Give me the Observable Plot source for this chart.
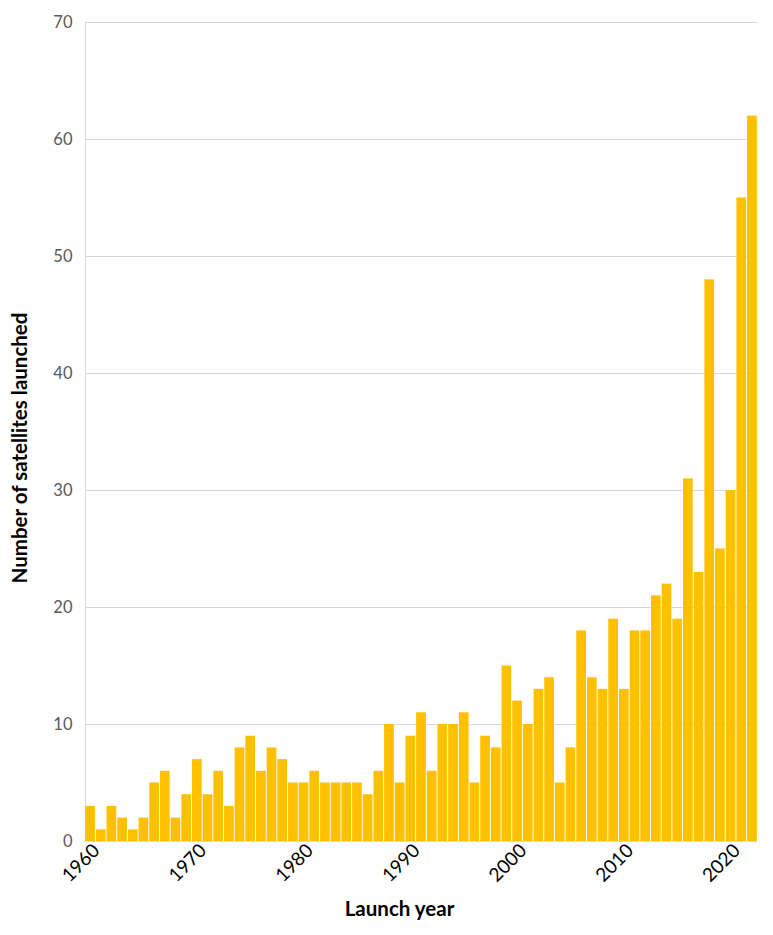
<!DOCTYPE html>
<html>
<head>
<meta charset="utf-8">
<script src="https://cdn.jsdelivr.net/npm/d3@7"></script>
<script src="https://cdn.jsdelivr.net/npm/@observablehq/plot@0.6"></script>
<style>
  html, body { margin: 0; padding: 0; background: #fff; }
  #chart svg { display: block; }
</style>
</head>
<body>
<div id="chart"></div>
<script>
const years = d3.range(1960, 2023);
const launched = [3, 1, 3, 2, 1, 2, 5, 6, 2, 4,
                  7, 4, 6, 3, 8, 9, 6, 8, 7, 5,
                  5, 6, 5, 5, 5, 5, 4, 6, 10, 5,
                  9, 11, 6, 10, 10, 11, 5, 9, 8, 15,
                  12, 10, 13, 14, 5, 8, 18, 14, 13, 19,
                  13, 18, 18, 21, 22, 19, 31, 23, 48, 25,
                  30, 55, 62];
const yTicks = [0, 10, 20, 30, 40, 50, 60, 70];
const xTicks = [1960, 1970, 1980, 1990, 2000, 2010, 2020];
const xTitle = "Launch year";
const yTitle = "Number of satellites launched";

const data = years.map((y, i) => ({year: y, value: launched[i]}));

const chart = Plot.plot({
  width: 773,
  height: 935,
  marginLeft: 85,
  marginRight: 16,
  marginTop: 22,
  marginBottom: 94,
  style: {fontFamily: "Lato, 'Open Sans', sans-serif", background: "#fff"},
  x: {type: "band", domain: years, paddingInner: 0.09, paddingOuter: 0.02},
  y: {domain: [0, 70]},
  marks: [
    Plot.gridY(yTicks, {stroke: "#d9d9d9", strokeOpacity: 1, strokeWidth: 1}),
    Plot.frame({anchor: "left", stroke: "#d9d9d9", strokeWidth: 1}),
    Plot.barY(data, {x: "year", y: "value", fill: "#FFC000"}),
    Plot.ruleY([0], {stroke: "#d9d9d9", strokeWidth: 1}),
    Plot.axisY(yTicks, {tickSize: 0, tickPadding: 13, fontSize: 16.5, fill: "#595959", label: null}),
    Plot.axisX(xTicks, {tickSize: 0, tickRotate: -45, fontSize: 19, fill: "#000", label: null, tickPadding: 6, dx: 6, tickFormat: d => String(d)}),
    Plot.text([yTitle], {frameAnchor: "left", textAnchor: "middle", lineAnchor: "middle", rotate: -90, dx: -65, dy: 16, fontSize: 20.5, fontWeight: "bold", fill: "#000"}),
    Plot.text([xTitle], {frameAnchor: "bottom", textAnchor: "middle", lineAnchor: "middle", dx: -22, dy: 68, fontSize: 20.5, fontWeight: "bold", fill: "#000"})
  ]
});
document.getElementById("chart").appendChild(chart);
</script>
</body>
</html>
